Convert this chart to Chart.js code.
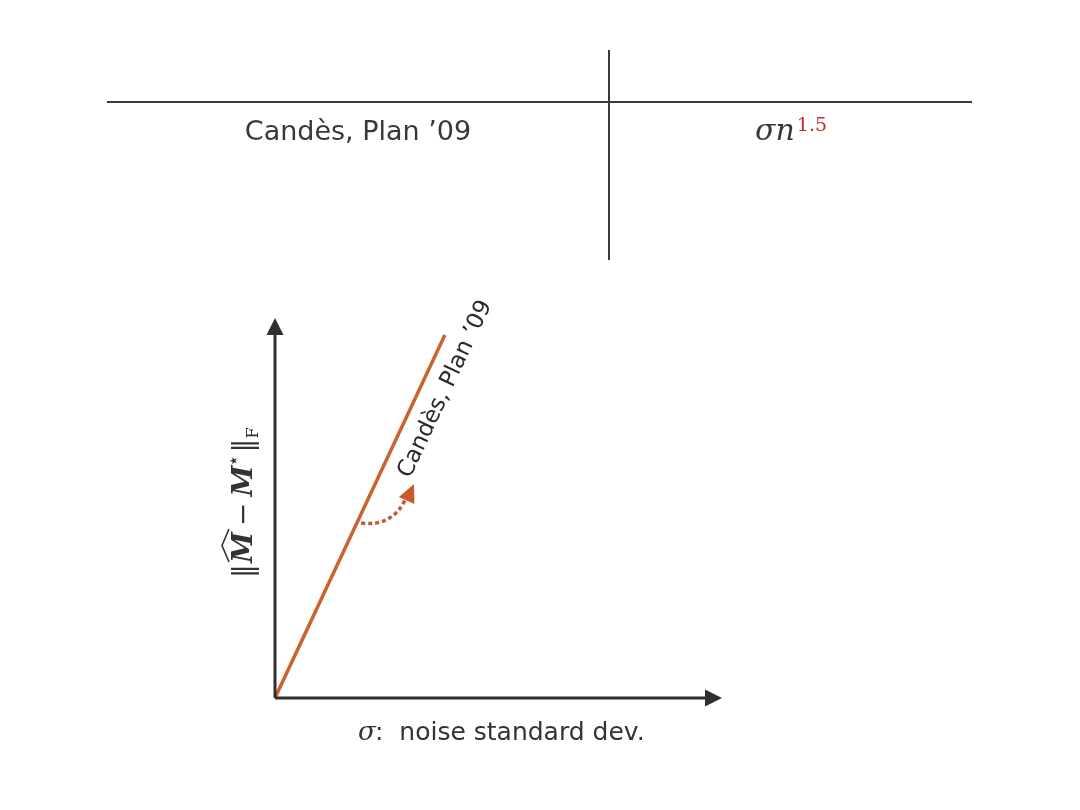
<!DOCTYPE html>
<html>
<head>
<meta charset="utf-8">
<script src="https://cdn.jsdelivr.net/npm/chart.js@4"></script>
<style>
  html, body { margin: 0; padding: 0; background: #fff; }
  #wrap { width: 1080px; height: 810px; }
</style>
</head>
<body>
<div id="wrap"><canvas id="canvas" width="1080" height="810"></canvas></div>
<script>
// data
var sigma = [0, 3.8];
var erro = [0, 9.55];
var xMax = 10;
var yMax = 10;
var autor = "Candès, Plan \u201909";
var taxa = "σn";
var expoente = "1.5";
var eixoX = "noise standard dev.";

var corLinha = '#c9642f';
var corEixo = '#2f2f2f';
var sans = '"DejaVu Sans", sans-serif';
var serif = '"DejaVu Serif", "Liberation Serif", serif';

function seta(ctx, x, y, ang, tam, larg) {
    ctx.save();
    ctx.translate(x, y);
    ctx.rotate(ang);
    ctx.beginPath();
    ctx.moveTo(0, 0);
    ctx.lineTo(-tam, -larg / 2);
    ctx.lineTo(-tam, larg / 2);
    ctx.closePath();
    ctx.fill();
    ctx.restore();
}

var desenhos = {
    id: 'desenhos',
    afterDraw: function (chart) {
        var ctx = chart.ctx;
        var sx = chart.scales.x, sy = chart.scales.y;
        var x0 = sx.getPixelForValue(0), y0 = sy.getPixelForValue(0);
        var x1 = sx.getPixelForValue(xMax), y1 = sy.getPixelForValue(yMax);

        ctx.save();
        // tabela
        ctx.strokeStyle = '#3a3a3a';
        ctx.lineWidth = 2;
        ctx.beginPath();
        ctx.moveTo(107, 102); ctx.lineTo(972, 102);
        ctx.moveTo(609, 50); ctx.lineTo(609, 260);
        ctx.stroke();

        ctx.fillStyle = '#383838';
        ctx.textBaseline = 'alphabetic';
        ctx.textAlign = 'center';
        ctx.font = '27px ' + sans;
        ctx.fillText(autor, 358, 140);

        ctx.textAlign = 'left';
        ctx.font = 'italic 30px ' + serif;
        ctx.fillText(taxa, 755, 140);
        var w = ctx.measureText(taxa).width;
        ctx.fillStyle = '#cc2a2a';
        ctx.font = '19px ' + serif;
        ctx.fillText(expoente, 755 + w + 2, 131);

        // eixos
        ctx.strokeStyle = corEixo;
        ctx.fillStyle = corEixo;
        ctx.lineWidth = 3;
        ctx.beginPath();
        ctx.moveTo(x0, y0); ctx.lineTo(x1 - 10, y0);
        ctx.moveTo(x0, y0); ctx.lineTo(x0, y1 + 10);
        ctx.stroke();
        seta(ctx, x1, y0, 0, 17, 17);
        seta(ctx, x0, y1, -Math.PI / 2, 17, 17);

        // rotulo da linha
        var px = sx.getPixelForValue(sigma[1]), py = sy.getPixelForValue(erro[1]);
        var ang = Math.atan2(py - y0, px - x0);
        ctx.save();
        ctx.translate(410, 479);
        ctx.rotate(ang);
        ctx.fillStyle = '#2a2a2a';
        ctx.font = '23px ' + sans;
        ctx.textAlign = 'left';
        ctx.fillText(autor, 0, 0);
        ctx.restore();

        // seta pontilhada
        ctx.strokeStyle = '#c0583c';
        ctx.lineWidth = 3.5;
        ctx.setLineDash([4, 3]);
        ctx.beginPath();
        ctx.moveTo(361, 523);
        ctx.quadraticCurveTo(392, 527, 405, 500);
        ctx.stroke();
        ctx.setLineDash([]);
        ctx.fillStyle = '#c95a2e';
        seta(ctx, 414, 484, -1.15, 18, 17);

        // rotulo eixo x
        ctx.fillStyle = '#333';
        ctx.font = 'italic 26px ' + serif;
        ctx.textAlign = 'left';
        ctx.fillText('σ', 358, 740);
        ctx.font = '25px ' + sans;
        ctx.fillText(':  ' + eixoX, 375, 740);

        // rotulo eixo y
        ctx.save();
        ctx.translate(252, 578);
        ctx.rotate(-Math.PI / 2);
        ctx.fillStyle = '#333';
        var cx = 0;
        ctx.font = '28px ' + serif;
        ctx.fillText('‖', cx, 0); cx += ctx.measureText('‖').width + 1;
        ctx.font = 'italic bold 28px ' + serif;
        var mw = ctx.measureText('M').width;
        ctx.fillText('M', cx, 0);
        // chapeu
        ctx.strokeStyle = '#333';
        ctx.lineWidth = 1.6;
        ctx.beginPath();
        ctx.moveTo(cx + 1, -23); ctx.lineTo(cx + mw / 2 + 2, -30); ctx.lineTo(cx + mw + 3, -23);
        ctx.stroke();
        cx += mw + 6;
        ctx.font = '28px ' + serif;
        ctx.fillText('−', cx, 0); cx += ctx.measureText('−').width + 6;
        ctx.font = 'italic bold 28px ' + serif;
        ctx.fillText('M', cx, 0); cx += mw;
        ctx.font = '20px ' + serif;
        ctx.fillText('⋆', cx - 1, -12); cx += 13;
        ctx.font = '28px ' + serif;
        ctx.fillText('‖', cx, 0); cx += ctx.measureText('‖').width;
        ctx.font = '16px ' + serif;
        ctx.fillText('F', cx, 6);
        ctx.restore();

        ctx.restore();
    }
};

var config = {
    type: 'scatter',
    data: {
        datasets: [{
            label: autor,
            data: sigma.map(function (s, i) { return { x: s, y: erro[i] }; }),
            showLine: true,
            borderColor: corLinha,
            borderWidth: 3.5,
            pointRadius: 0,
            fill: false
        }]
    },
    options: {
        responsive: false,
        animation: false,
        layout: { padding: { left: 275, right: 358, top: 318, bottom: 112 } },
        plugins: { legend: { display: false }, tooltip: { enabled: false } },
        scales: {
            x: { type: 'linear', min: 0, max: xMax, display: false },
            y: { type: 'linear', min: 0, max: yMax, display: false }
        }
    },
    plugins: [desenhos]
};

var ctx = document.getElementById('canvas').getContext('2d');
window.myLine = new Chart(ctx, config);
</script>
</body>
</html>
